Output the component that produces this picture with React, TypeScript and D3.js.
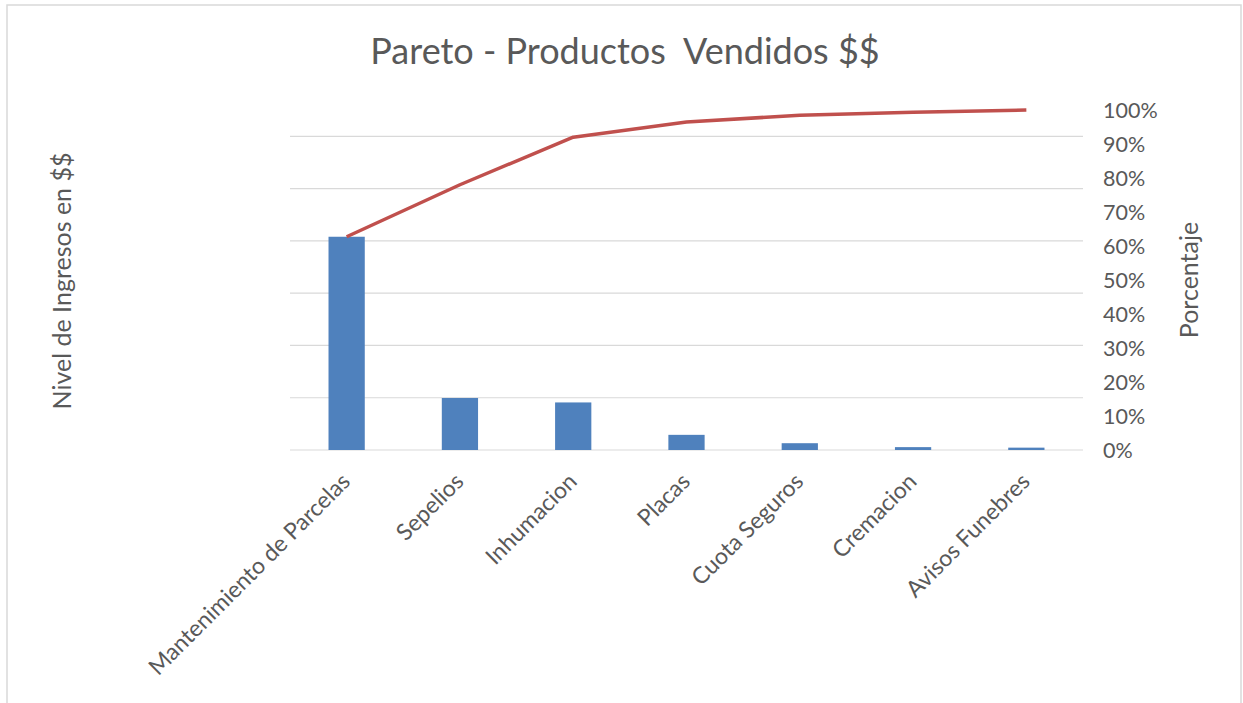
import React from "react";
import * as d3 from "d3";

const categories = [
  "Mantenimiento de Parcelas",
  "Sepelios",
  "Inhumacion",
  "Placas",
  "Cuota Seguros",
  "Cremacion",
  "Avisos Funebres",
];
const ingresos = [4080, 995, 910, 290, 130, 55, 45];
const percentTicks = [0, 0.1, 0.2, 0.3, 0.4, 0.5, 0.6, 0.7, 0.8, 0.9, 1];
const leftGridTicks = [0, 1000, 2000, 3000, 4000, 5000, 6000];

const title = "Pareto - Productos  Vendidos $$";
const leftTitle = "Nivel de Ingresos en $$";
const rightTitle = "Porcentaje";

const W = 1243;
const H = 703;
const plot = { left: 290, right: 1083, top: 110, bottom: 450 };
const FONT = "Lato, 'Open Sans', sans-serif";
const TEXT = "#595959";

export default function App() {
  const total = d3.sum(ingresos);
  const cumulative = d3.cumsum(ingresos).map((v) => v / total);

  const x = d3
    .scaleBand<string>()
    .domain(categories)
    .range([plot.left, plot.right])
    .paddingInner(0.68)
    .paddingOuter(0.34);
  const yLeft = d3.scaleLinear().domain([0, total]).range([plot.bottom, plot.top]);
  const yRight = d3.scaleLinear().domain([0, 1]).range([plot.bottom, plot.top]);

  const line = d3
    .line<number>()
    .x((_, i) => (x(categories[i]) as number) + x.bandwidth() / 2)
    .y((d) => yRight(d));

  return (
    <svg
      width={W}
      height={H}
      style={{ position: "absolute", left: 0, top: 0, background: "#fff" }}
      fontFamily={FONT}
    >
      <rect x={0} y={0} width={W} height={H} fill="#fff" />
      <rect x={7} y={5} width={1234} height={H + 10} fill="none" stroke="#d9d9d9" strokeWidth={1.5} />

      <text
        x={625}
        y={64}
        textAnchor="middle"
        fontSize={36}
        fill={TEXT}
        style={{ whiteSpace: "pre" }}
      >
        {title}
      </text>

      {leftGridTicks.map((t) => (
        <line
          key={t}
          x1={plot.left}
          x2={plot.right}
          y1={yLeft(t)}
          y2={yLeft(t)}
          stroke="#d9d9d9"
          strokeWidth={1.2}
        />
      ))}

      {ingresos.map((v, i) => (
        <rect
          key={categories[i]}
          x={x(categories[i])}
          y={yLeft(v)}
          width={x.bandwidth()}
          height={plot.bottom - yLeft(v)}
          fill="#4f81bd"
        />
      ))}

      <path d={line(cumulative) || ""} fill="none" stroke="#c0504d" strokeWidth={3.5} strokeLinejoin="round" />

      {percentTicks.map((t) => (
        <text
          key={t}
          x={1103}
          y={yRight(t)}
          dy="0.36em"
          fontSize={21.5}
          fill={TEXT}
        >
          {d3.format(".0%")(t)}
        </text>
      ))}

      {categories.map((c) => {
        const cx = (x(c) as number) + x.bandwidth() / 2;
        return (
          <text
            key={c}
            transform={`translate(${cx + 5},${plot.bottom + 33}) rotate(-45)`}
            textAnchor="end"
            fontSize={23}
            fill={TEXT}
          >
            {c}
          </text>
        );
      })}

      <text
        transform={`translate(71,281) rotate(-90)`}
        textAnchor="middle"
        fontSize={25}
        fill={TEXT}
      >
        {leftTitle}
      </text>
      <text
        transform={`translate(1198,280) rotate(-90)`}
        textAnchor="middle"
        fontSize={25}
        fill={TEXT}
      >
        {rightTitle}
      </text>
    </svg>
  );
}
